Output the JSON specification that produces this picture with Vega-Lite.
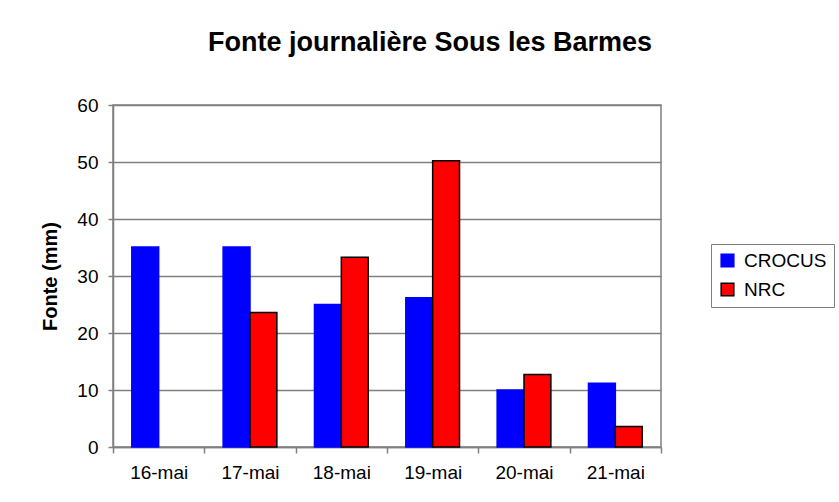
{
  "$schema": "https://vega.github.io/schema/vega-lite/v6.json",
  "width": 548,
  "height": 342,
  "autosize": {"type": "none"},
  "padding": {"left": 113, "top": 105, "right": 178, "bottom": 55},
  "background": "white",
  "title": {
    "text": "Fonte journalière Sous les Barmes",
    "font": "Liberation Sans",
    "fontSize": 27,
    "fontWeight": "bold",
    "color": "black",
    "anchor": "middle",
    "dx": 43,
    "baseline": "alphabetic",
    "offset": 18
  },
  "data": {
    "values": [
      {"date": "16-mai", "series": "CROCUS", "value": 35.1},
      {"date": "17-mai", "series": "CROCUS", "value": 35.1},
      {"date": "17-mai", "series": "NRC", "value": 23.6},
      {"date": "18-mai", "series": "CROCUS", "value": 25.0},
      {"date": "18-mai", "series": "NRC", "value": 33.3},
      {"date": "19-mai", "series": "CROCUS", "value": 26.2},
      {"date": "19-mai", "series": "NRC", "value": 50.2},
      {"date": "20-mai", "series": "CROCUS", "value": 10.0},
      {"date": "20-mai", "series": "NRC", "value": 12.7},
      {"date": "21-mai", "series": "CROCUS", "value": 11.2},
      {"date": "21-mai", "series": "NRC", "value": 3.6}
    ]
  },
  "mark": {"type": "bar", "strokeWidth": 1.5},
  "encoding": {
    "x": {
      "field": "date",
      "type": "nominal",
      "sort": ["16-mai", "17-mai", "18-mai", "19-mai", "20-mai", "21-mai"],
      "scale": {"paddingInner": 0, "paddingOuter": 0},
      "axis": {
        "title": null,
        "labelAngle": 0,
        "tickBand": "extent",
        "tickSize": 6,
        "labelPadding": 10,
        "grid": false
      }
    },
    "xOffset": {
      "field": "series",
      "type": "nominal",
      "scale": {"domain": ["CROCUS", "NRC"], "paddingInner": 0, "paddingOuter": 0.7}
    },
    "y": {
      "field": "value",
      "type": "quantitative",
      "scale": {"domain": [0, 60], "nice": false},
      "axis": {
        "title": "Fonte (mm)",
        "values": [0, 10, 20, 30, 40, 50, 60],
        "tickSize": 5,
        "labelPadding": 10,
        "titlePadding": 16,
        "grid": true
      }
    },
    "fill": {
      "field": "series",
      "type": "nominal",
      "scale": {"domain": ["CROCUS", "NRC"], "range": ["#0000FF", "#FF0000"]},
      "legend": {
        "title": null,
        "orient": "none",
        "legendX": 598,
        "legendY": 139,
        "symbolType": "square",
        "symbolSize": 160,
        "symbolStrokeWidth": 1.5,
        "labelFontSize": 19,
        "labelOffset": 7,
        "rowPadding": 9,
        "padding": 7,
        "strokeColor": "#808080",
        "fillColor": "white"
      }
    },
    "stroke": {
      "field": "series",
      "type": "nominal",
      "scale": {"domain": ["CROCUS", "NRC"], "range": ["#0000FF", "#000000"]},
      "legend": null
    }
  },
  "config": {
    "font": "Liberation Sans",
    "view": {"stroke": "#808080", "strokeWidth": 1.5},
    "axis": {
      "labelFont": "Liberation Sans",
      "labelFontSize": 19,
      "labelColor": "black",
      "titleFont": "Liberation Sans",
      "titleFontSize": 20,
      "titleFontWeight": "bold",
      "titleColor": "black",
      "domainColor": "#808080",
      "domainWidth": 1.5,
      "tickColor": "#808080",
      "tickWidth": 1.5,
      "gridColor": "#808080",
      "gridWidth": 1.5
    },
    "legend": {
      "labelFont": "Liberation Sans",
      "labelColor": "black"
    }
  }
}
